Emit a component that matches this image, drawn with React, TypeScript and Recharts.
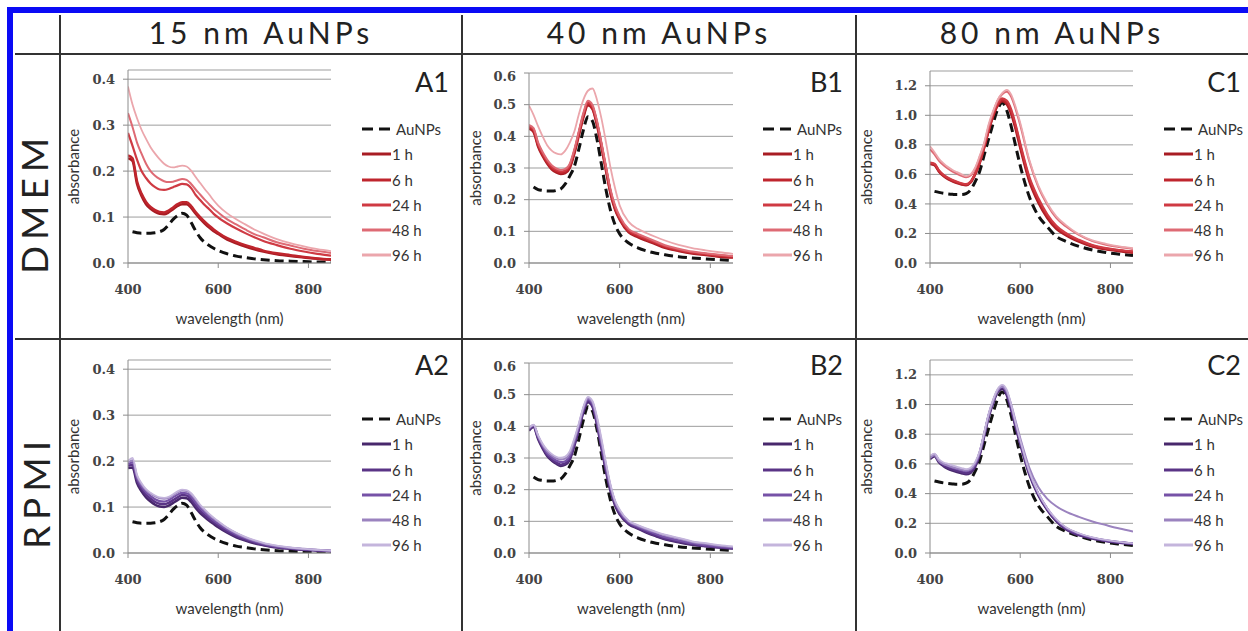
import { LineChart, Line, XAxis, YAxis, CartesianGrid, Legend } from "recharts";

// shared x grid (nm)
const WAVELENGTHS = [
  400, 410, 420, 430, 440, 450, 460, 470, 480, 490, 500, 510, 520, 530, 540, 550, 560, 570, 580, 590, 600,
  620, 640, 660, 680, 700, 730, 760, 790, 820, 850,
];

const SERIES_NAMES = ["AuNPs", "1 h", "6 h", "24 h", "48 h", "96 h"];
const SIZE_TITLES = ["15 nm AuNPs", "40 nm AuNPs", "80 nm AuNPs"];
const MEDIA = ["DMEM", "RPMI"];
const PANEL_TAGS = ["A1", "B1", "C1", "A2", "B2", "C2"];
const X_TICKS = [400, 600, 800];
const Y_TICKS_15 = [0, 0.1, 0.2, 0.3, 0.4];
const Y_TICKS_40 = [0, 0.1, 0.2, 0.3, 0.4, 0.5, 0.6];
const Y_TICKS_80 = [0, 0.2, 0.4, 0.6, 0.8, 1.0, 1.2];

// bare particles (same in both media)
const AUNP_15 = [null, 0.068, 0.066, 0.065, 0.065, 0.065, 0.066, 0.068, 0.073, 0.083, 0.095, 0.103, 0.108, 0.104, 0.088, 0.07, 0.055, 0.045, 0.038, 0.032, 0.027, 0.02, 0.015, 0.012, 0.009, 0.007, 0.005, 0.004, 0.003, 0.002, 0.002];
const AUNP_40 = [null, 0.24, 0.232, 0.229, 0.227, 0.227, 0.229, 0.234, 0.25, 0.275, 0.305, 0.36, 0.42, 0.462, 0.448, 0.39, 0.31, 0.23, 0.165, 0.12, 0.092, 0.063, 0.048, 0.038, 0.031, 0.026, 0.02, 0.016, 0.013, 0.01, 0.008];
const AUNP_80 = [null, 0.485, 0.478, 0.472, 0.468, 0.465, 0.463, 0.463, 0.47, 0.495, 0.55, 0.62, 0.73, 0.84, 0.945, 1.04, 1.085, 1.035, 0.925, 0.79, 0.66, 0.45, 0.32, 0.245, 0.18, 0.148, 0.113, 0.088, 0.071, 0.06, 0.05];

// DMEM, 15 nm
const DMEM_15_1H = [0.228, 0.222, 0.172, 0.146, 0.128, 0.118, 0.111, 0.107, 0.106, 0.11, 0.117, 0.124, 0.128, 0.128, 0.12, 0.107, 0.096, 0.086, 0.077, 0.069, 0.063, 0.051, 0.043, 0.036, 0.03, 0.025, 0.019, 0.015, 0.012, 0.009, 0.007];
const DMEM_15_6H = [0.234, 0.228, 0.178, 0.151, 0.133, 0.122, 0.115, 0.111, 0.11, 0.114, 0.121, 0.128, 0.132, 0.132, 0.124, 0.111, 0.1, 0.09, 0.081, 0.073, 0.066, 0.054, 0.046, 0.039, 0.033, 0.027, 0.021, 0.017, 0.013, 0.01, 0.008];
const DMEM_15_24H = [0.283, 0.255, 0.225, 0.2, 0.185, 0.173, 0.165, 0.16, 0.159, 0.161, 0.165, 0.169, 0.172, 0.171, 0.163, 0.148, 0.137, 0.126, 0.117, 0.107, 0.099, 0.086, 0.075, 0.065, 0.056, 0.048, 0.039, 0.031, 0.025, 0.02, 0.016];
const DMEM_15_48H = [0.326, 0.296, 0.262, 0.238, 0.216, 0.2, 0.19, 0.183, 0.178, 0.176, 0.177, 0.18, 0.183, 0.181, 0.172, 0.16, 0.149, 0.138, 0.128, 0.118, 0.11, 0.095, 0.084, 0.073, 0.063, 0.056, 0.045, 0.038, 0.031, 0.026, 0.022];
const DMEM_15_96H = [0.384, 0.345, 0.315, 0.29, 0.27, 0.252, 0.238, 0.226, 0.216, 0.21, 0.208, 0.21, 0.212, 0.21, 0.201, 0.187, 0.174, 0.161, 0.149, 0.136, 0.125, 0.108, 0.095, 0.084, 0.073, 0.064, 0.052, 0.043, 0.036, 0.03, 0.026];

// DMEM, 40 nm
const DMEM_40_1H = [0.424, 0.414, 0.368, 0.338, 0.314, 0.296, 0.286, 0.281, 0.284, 0.3, 0.345, 0.403, 0.46, 0.498, 0.486, 0.435, 0.365, 0.29, 0.218, 0.168, 0.137, 0.097, 0.082, 0.07, 0.059, 0.048, 0.038, 0.03, 0.025, 0.02, 0.017];
const DMEM_40_6H = [0.428, 0.418, 0.372, 0.342, 0.318, 0.3, 0.29, 0.285, 0.288, 0.305, 0.35, 0.408, 0.465, 0.503, 0.49, 0.44, 0.37, 0.295, 0.222, 0.172, 0.14, 0.1, 0.085, 0.073, 0.062, 0.05, 0.04, 0.032, 0.027, 0.022, 0.019];
const DMEM_40_24H = [0.432, 0.422, 0.376, 0.346, 0.322, 0.304, 0.294, 0.289, 0.292, 0.309, 0.354, 0.412, 0.469, 0.507, 0.494, 0.444, 0.374, 0.299, 0.226, 0.176, 0.143, 0.103, 0.088, 0.076, 0.065, 0.053, 0.042, 0.034, 0.029, 0.024, 0.021];
const DMEM_40_48H = [0.436, 0.426, 0.381, 0.351, 0.327, 0.309, 0.299, 0.294, 0.297, 0.314, 0.359, 0.417, 0.474, 0.512, 0.499, 0.449, 0.379, 0.304, 0.231, 0.181, 0.148, 0.107, 0.092, 0.08, 0.068, 0.056, 0.045, 0.036, 0.031, 0.026, 0.022];
const DMEM_40_96H = [0.497, 0.468, 0.432, 0.4, 0.372, 0.355, 0.346, 0.343, 0.355, 0.38, 0.415, 0.47, 0.516, 0.544, 0.551, 0.515, 0.455, 0.38, 0.3, 0.235, 0.182, 0.13, 0.108, 0.094, 0.082, 0.071, 0.057, 0.047, 0.04, 0.034, 0.029];

// DMEM, 80 nm
const DMEM_80_1H = [0.67, 0.662, 0.618, 0.588, 0.568, 0.553, 0.541, 0.532, 0.527, 0.545, 0.6, 0.675, 0.78, 0.895, 0.995, 1.065, 1.095, 1.075, 1.01, 0.905, 0.78, 0.555, 0.41, 0.305, 0.232, 0.19, 0.145, 0.112, 0.093, 0.08, 0.07];
const DMEM_80_6H = [0.675, 0.668, 0.622, 0.592, 0.572, 0.557, 0.545, 0.535, 0.53, 0.548, 0.603, 0.678, 0.785, 0.9, 1.002, 1.072, 1.105, 1.088, 1.025, 0.92, 0.795, 0.57, 0.425, 0.318, 0.242, 0.198, 0.151, 0.117, 0.097, 0.084, 0.074];
const DMEM_80_24H = [0.68, 0.672, 0.627, 0.597, 0.577, 0.562, 0.55, 0.54, 0.534, 0.552, 0.607, 0.682, 0.79, 0.905, 1.01, 1.08, 1.115, 1.1, 1.04, 0.935, 0.81, 0.585, 0.44, 0.33, 0.252, 0.205, 0.157, 0.122, 0.101, 0.088, 0.078];
const DMEM_80_48H = [0.77, 0.735, 0.692, 0.662, 0.638, 0.619, 0.604, 0.59, 0.58, 0.592, 0.638, 0.715, 0.805, 0.925, 1.022, 1.1, 1.142, 1.16, 1.125, 1.04, 0.935, 0.69, 0.515, 0.395, 0.305, 0.25, 0.19, 0.148, 0.124, 0.108, 0.095];
const DMEM_80_96H = [0.79, 0.75, 0.705, 0.675, 0.65, 0.63, 0.615, 0.6, 0.588, 0.6, 0.645, 0.725, 0.815, 0.94, 1.03, 1.105, 1.15, 1.172, 1.14, 1.055, 0.95, 0.7, 0.525, 0.405, 0.316, 0.26, 0.195, 0.153, 0.13, 0.112, 0.1];

// RPMI, 15 nm
const RPMI_15_1H = [0.185, 0.186, 0.152, 0.134, 0.121, 0.112, 0.105, 0.101, 0.1, 0.103, 0.109, 0.115, 0.12, 0.119, 0.111, 0.098, 0.087, 0.078, 0.07, 0.063, 0.056, 0.044, 0.034, 0.027, 0.021, 0.017, 0.012, 0.009, 0.007, 0.005, 0.004];
const RPMI_15_6H = [0.19, 0.192, 0.158, 0.14, 0.127, 0.118, 0.111, 0.107, 0.106, 0.109, 0.115, 0.121, 0.126, 0.125, 0.117, 0.104, 0.092, 0.083, 0.074, 0.067, 0.06, 0.047, 0.037, 0.029, 0.023, 0.018, 0.013, 0.01, 0.007, 0.006, 0.004];
const RPMI_15_24H = [0.193, 0.197, 0.163, 0.145, 0.132, 0.124, 0.117, 0.113, 0.112, 0.115, 0.121, 0.127, 0.131, 0.13, 0.123, 0.11, 0.098, 0.088, 0.079, 0.071, 0.064, 0.051, 0.04, 0.032, 0.025, 0.02, 0.014, 0.011, 0.008, 0.006, 0.005];
const RPMI_15_48H = [0.197, 0.202, 0.167, 0.149, 0.137, 0.129, 0.123, 0.119, 0.118, 0.12, 0.126, 0.132, 0.136, 0.135, 0.128, 0.116, 0.103, 0.093, 0.083, 0.075, 0.068, 0.054, 0.043, 0.034, 0.027, 0.021, 0.015, 0.011, 0.009, 0.007, 0.005];
const RPMI_15_96H = [0.2, 0.207, 0.17, 0.152, 0.139, 0.131, 0.125, 0.121, 0.12, 0.122, 0.128, 0.134, 0.138, 0.137, 0.13, 0.118, 0.105, 0.095, 0.085, 0.077, 0.069, 0.055, 0.044, 0.035, 0.028, 0.022, 0.016, 0.012, 0.009, 0.007, 0.005];

// RPMI, 40 nm
const RPMI_40_1H = [0.386, 0.398, 0.36, 0.33, 0.306, 0.292, 0.282, 0.275, 0.279, 0.295, 0.338, 0.39, 0.445, 0.476, 0.462, 0.405, 0.33, 0.257, 0.195, 0.15, 0.122, 0.091, 0.077, 0.064, 0.053, 0.043, 0.034, 0.026, 0.021, 0.017, 0.014];
const RPMI_40_6H = [0.389, 0.401, 0.364, 0.334, 0.31, 0.296, 0.286, 0.279, 0.283, 0.299, 0.342, 0.394, 0.449, 0.48, 0.466, 0.41, 0.335, 0.262, 0.199, 0.154, 0.125, 0.094, 0.079, 0.066, 0.055, 0.045, 0.036, 0.028, 0.022, 0.018, 0.015];
const RPMI_40_24H = [0.392, 0.403, 0.367, 0.338, 0.315, 0.302, 0.292, 0.287, 0.29, 0.306, 0.349, 0.4, 0.454, 0.485, 0.471, 0.417, 0.343, 0.27, 0.206, 0.159, 0.13, 0.097, 0.083, 0.071, 0.06, 0.05, 0.04, 0.031, 0.025, 0.02, 0.017];
const RPMI_40_48H = [0.394, 0.404, 0.37, 0.342, 0.321, 0.308, 0.299, 0.295, 0.298, 0.314, 0.356, 0.405, 0.458, 0.489, 0.476, 0.423, 0.352, 0.277, 0.211, 0.162, 0.134, 0.1, 0.086, 0.075, 0.065, 0.056, 0.046, 0.035, 0.029, 0.023, 0.019];
const RPMI_40_96H = [0.396, 0.405, 0.372, 0.345, 0.326, 0.313, 0.304, 0.301, 0.305, 0.322, 0.362, 0.41, 0.462, 0.493, 0.48, 0.43, 0.36, 0.283, 0.215, 0.165, 0.137, 0.102, 0.088, 0.077, 0.067, 0.058, 0.048, 0.037, 0.031, 0.025, 0.021];

// RPMI, 80 nm
const RPMI_80_1H = [0.632, 0.652, 0.61, 0.585, 0.567, 0.555, 0.545, 0.537, 0.53, 0.54, 0.58, 0.66, 0.785, 0.915, 1.01, 1.084, 1.105, 1.065, 0.965, 0.845, 0.735, 0.53, 0.39, 0.29, 0.214, 0.162, 0.12, 0.098, 0.08, 0.069, 0.06];
const RPMI_80_6H = [0.64, 0.66, 0.617, 0.592, 0.575, 0.563, 0.553, 0.545, 0.538, 0.548, 0.588, 0.668, 0.793, 0.923, 1.018, 1.092, 1.115, 1.075, 0.975, 0.855, 0.745, 0.538, 0.396, 0.295, 0.218, 0.166, 0.123, 0.1, 0.082, 0.071, 0.062];
const RPMI_80_24H = [0.646, 0.664, 0.622, 0.6, 0.587, 0.575, 0.566, 0.558, 0.552, 0.56, 0.598, 0.676, 0.8, 0.93, 1.025, 1.098, 1.122, 1.085, 0.985, 0.865, 0.752, 0.542, 0.4, 0.298, 0.222, 0.172, 0.13, 0.103, 0.085, 0.073, 0.064];
const RPMI_80_48H = [0.64, 0.658, 0.618, 0.598, 0.588, 0.578, 0.57, 0.562, 0.556, 0.565, 0.602, 0.678, 0.8, 0.928, 1.022, 1.095, 1.12, 1.09, 1.0, 0.885, 0.775, 0.575, 0.445, 0.365, 0.315, 0.28, 0.243, 0.212, 0.188, 0.165, 0.145];
const RPMI_80_96H = [0.655, 0.67, 0.63, 0.61, 0.6, 0.59, 0.58, 0.572, 0.565, 0.575, 0.612, 0.685, 0.81, 0.94, 1.035, 1.105, 1.133, 1.1, 1.0, 0.875, 0.76, 0.55, 0.405, 0.302, 0.228, 0.176, 0.133, 0.106, 0.088, 0.075, 0.065];

const RED_SHADES = ["#a81c23", "#bf252d", "#cf3a43", "#de6a74", "#eba6ac"];
const PURPLE_SHADES = ["#48286c", "#5a3486", "#7652a7", "#9b83bf", "#c4b5dc"];
const WIDTHS = [3, 2.5, 2.5, 2.2, 2, 1.8];

type Series = (number | null)[];

function buildRows(series: Series[]) {
  return WAVELENGTHS.map((wl, i) => {
    const row: Record<string, number | null> = { wl };
    series.forEach((s, k) => {
      row["s" + k] = s[i];
    });
    return row;
  });
}

const FONT = "Lato, 'Open Sans', sans-serif";
const AXIS_GREY = "#8c8c8c";
const Y_AXIS_W = 80;

const PANELS = [
  { tag: PANEL_TAGS[0], x0: 128, x1: 331, right: 460, yTop: 70, yBottom: 263, yMax: 0.42, ticks: Y_TICKS_15, labelDx: 26, colors: RED_SHADES,
    rows: buildRows([AUNP_15, DMEM_15_1H, DMEM_15_6H, DMEM_15_24H, DMEM_15_48H, DMEM_15_96H]) },
  { tag: PANEL_TAGS[1], x0: 529, x1: 733, right: 854, yTop: 73, yBottom: 263, yMax: 0.6, ticks: Y_TICKS_40, labelDx: 27, colors: RED_SHADES,
    rows: buildRows([AUNP_40, DMEM_40_1H, DMEM_40_6H, DMEM_40_24H, DMEM_40_48H, DMEM_40_96H]) },
  { tag: PANEL_TAGS[2], x0: 930, x1: 1133, right: 1246, yTop: 71, yBottom: 263, yMax: 1.3, ticks: Y_TICKS_80, labelDx: 17, colors: RED_SHADES,
    rows: buildRows([AUNP_80, DMEM_80_1H, DMEM_80_6H, DMEM_80_24H, DMEM_80_48H, DMEM_80_96H]) },
  { tag: PANEL_TAGS[3], x0: 128, x1: 331, right: 460, yTop: 360, yBottom: 553, yMax: 0.42, ticks: Y_TICKS_15, labelDx: 26, colors: PURPLE_SHADES,
    rows: buildRows([AUNP_15, RPMI_15_1H, RPMI_15_6H, RPMI_15_24H, RPMI_15_48H, RPMI_15_96H]) },
  { tag: PANEL_TAGS[4], x0: 529, x1: 733, right: 854, yTop: 363, yBottom: 553, yMax: 0.6, ticks: Y_TICKS_40, labelDx: 27, colors: PURPLE_SHADES,
    rows: buildRows([AUNP_40, RPMI_40_1H, RPMI_40_6H, RPMI_40_24H, RPMI_40_48H, RPMI_40_96H]) },
  { tag: PANEL_TAGS[5], x0: 930, x1: 1133, right: 1246, yTop: 360, yBottom: 553, yMax: 1.3, ticks: Y_TICKS_80, labelDx: 17, colors: PURPLE_SHADES,
    rows: buildRows([AUNP_80, RPMI_80_1H, RPMI_80_6H, RPMI_80_24H, RPMI_80_48H, RPMI_80_96H]) },
];

function strokeFor(colors: string[], k: number) {
  return k === 0 ? "#111" : colors[k - 1];
}

function LegendBox({ colors }: { colors: string[] }) {
  return (
    <div style={{ fontFamily: FONT, fontSize: 15, color: "#333" }}>
      {SERIES_NAMES.map((name, k) => (
        <div key={name} style={{ display: "flex", alignItems: "center", height: 25.3 }}>
          <svg width={29} height={6} style={{ flex: "none" }}>
            <line x1={0} y1={3} x2={29} y2={3} stroke={strokeFor(colors, k)} strokeWidth={3}
              strokeDasharray={k === 0 ? "11 6" : undefined} />
          </svg>
          <span style={{ marginLeft: k === 0 ? 5 : 1, whiteSpace: "nowrap" }}>{name}</span>
        </div>
      ))}
    </div>
  );
}

function Panel({ p }: { p: (typeof PANELS)[number] }) {
  const left = p.x0 - Y_AXIS_W;
  const top = p.yTop - 5;
  const width = p.right - left;
  const height = p.yBottom - top + 65;
  const plotW = p.x1 - p.x0;
  const legendTop = p.yBottom - 134 - 12.65 - top;
  return (
    <div style={{ position: "absolute", left, top, width, height }}>
      <LineChart width={width} height={height} data={p.rows}
        margin={{ top: 5, right: width - Y_AXIS_W - plotW, bottom: 0, left: 0 }}>
        <CartesianGrid vertical={false} stroke="#9d9d9d" />
        <XAxis dataKey="wl" type="number" domain={[400, 850]} ticks={X_TICKS} allowDataOverflow
          height={65} tickSize={5} tickMargin={17}
          axisLine={{ stroke: AXIS_GREY }} tickLine={{ stroke: AXIS_GREY }}
          tick={{ fontFamily: "'DejaVu Serif', serif", fontWeight: "bold", fontSize: 13, fill: "#444" }}
          label={{ value: "wavelength (nm)", position: "insideBottom", offset: 4,
            style: { fontFamily: FONT, fontSize: 15, fill: "#333" } }} />
        <YAxis type="number" domain={[0, p.yMax]} ticks={p.ticks} allowDataOverflow width={Y_AXIS_W}
          tickSize={5} tickMargin={8} tickFormatter={(v: number) => v.toFixed(1)}
          axisLine={{ stroke: AXIS_GREY }} tickLine={{ stroke: AXIS_GREY }}
          tick={{ fontFamily: "'DejaVu Serif', serif", fontWeight: "bold", fontSize: 13, fill: "#444" }}
          label={{ value: "absorbance", angle: -90, position: "insideLeft", offset: p.labelDx,
            style: { fontFamily: FONT, fontSize: 15, fill: "#333", textAnchor: "middle" } }} />
        <Legend layout="vertical" align="center" verticalAlign="middle"
          wrapperStyle={{ left: Y_AXIS_W + 234, top: legendTop, width: 90, height: 155 }}
          content={() => <LegendBox colors={p.colors} />} />
        {SERIES_NAMES.map((name, k) => (
          <Line key={name} dataKey={"s" + k} name={name} type="monotone" dot={false}
            stroke={strokeFor(p.colors, k)} strokeWidth={WIDTHS[k]}
            strokeDasharray={k === 0 ? "9 5" : undefined} isAnimationActive={false} />
        ))}
      </LineChart>
    </div>
  );
}

function Frame() {
  const vx = [60, 462, 856];
  const colCentres = [261, 659, 1052];
  const tagX = [449, 843, 1241];
  return (
    <svg width={1248} height={631} style={{ position: "absolute", left: 0, top: 0 }}>
      <rect x={7} y={7} width={1241} height={6} fill="#0b0bf5" />
      <rect x={7} y={7} width={6} height={624} fill="#0b0bf5" />
      <line x1={15} y1={54} x2={1248} y2={54} stroke="#333" strokeWidth={2} />
      <line x1={15} y1={339} x2={1248} y2={339} stroke="#333" strokeWidth={2} />
      {vx.map((x) => (
        <line key={x} x1={x} y1={15} x2={x} y2={631} stroke="#333" strokeWidth={2} />
      ))}
      {SIZE_TITLES.map((t, i) => (
        <text key={t} x={colCentres[i]} y={44} textAnchor="middle" fontFamily={FONT} fontSize={30}
          letterSpacing={4} fill="#222">{t}</text>
      ))}
      <text transform="translate(48,203) rotate(-90)" textAnchor="middle" fontFamily={FONT} fontSize={37}
        letterSpacing={6} fill="#222">{MEDIA[0]}</text>
      <text transform="translate(50,492) rotate(-90)" textAnchor="middle" fontFamily={FONT} fontSize={37}
        letterSpacing={6} fill="#222">{MEDIA[1]}</text>
      {PANEL_TAGS.map((t, i) => (
        <text key={t} x={tagX[i % 3]} y={i < 3 ? 92 : 375} textAnchor="end" fontFamily={FONT} fontSize={27}
          fill="#222">{t}</text>
      ))}
    </svg>
  );
}

export default function App() {
  return (
    <div style={{ position: "absolute", left: 0, top: 0, width: 1248, height: 631, background: "#fff", overflow: "hidden" }}>
      <Frame />
      {PANELS.map((p) => (
        <Panel key={p.tag} p={p} />
      ))}
    </div>
  );
}
